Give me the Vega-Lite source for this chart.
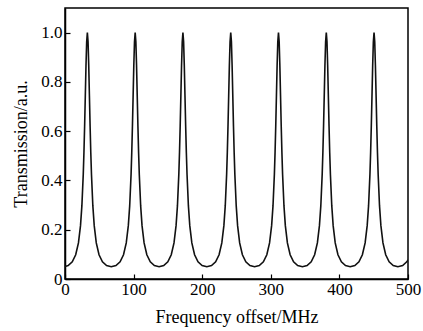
{
  "$schema": "https://vega.github.io/schema/vega-lite/v6.json",
  "width": 343,
  "height": 271,
  "autosize": "none",
  "padding": {"left": 65, "top": 8, "right": 15, "bottom": 52},
  "background": "white",
  "config": {
    "view": {"stroke": "#000", "strokeWidth": 1.5},
    "axis": {"labelFont": "Liberation Serif", "titleFont": "Liberation Serif", "labelColor": "#000", "titleColor": "#000", "domainColor": "#000", "tickColor": "#000", "grid": false, "labelFontSize": 17, "titleFontSize": 18, "titleFontWeight": "normal", "domainWidth": 1.5, "tickWidth": 1.2}
  },
  "data": {"values": [
    {"f": 0, "t": 0.0505}, {"f": 4.6, "t": 0.0548}, {"f": 10.6, "t": 0.0698}, {"f": 15.6, "t": 0.0985}, {"f": 19.6, "t": 0.1465}, {"f": 22.6, "t": 0.2166}, {"f": 24.6, "t": 0.2966}, {"f": 26.6, "t": 0.4238}, {"f": 27.6, "t": 0.5124}, {"f": 28.6, "t": 0.6202}, {"f": 29.6, "t": 0.7428}, {"f": 30.6, "t": 0.8662}, {"f": 31.6, "t": 0.9628}, {"f": 32.6, "t": 1.0}, {"f": 33.6, "t": 0.9628}, {"f": 34.6, "t": 0.8662}, {"f": 35.6, "t": 0.7428}, {"f": 36.6, "t": 0.6202}, {"f": 37.6, "t": 0.5124}, {"f": 38.6, "t": 0.4238}, {"f": 40.6, "t": 0.2966}, {"f": 42.6, "t": 0.2166}, {"f": 45.6, "t": 0.1465}, {"f": 49.6, "t": 0.0985}, {"f": 54.6, "t": 0.0698}, {"f": 60.6, "t": 0.0548}, {"f": 67.4, "t": 0.05},
    {"f": 74.3, "t": 0.0548}, {"f": 80.3, "t": 0.0698}, {"f": 85.3, "t": 0.0985}, {"f": 89.3, "t": 0.1465}, {"f": 92.3, "t": 0.2166}, {"f": 94.3, "t": 0.2966}, {"f": 96.3, "t": 0.4238}, {"f": 97.3, "t": 0.5124}, {"f": 98.3, "t": 0.6202}, {"f": 99.3, "t": 0.7428}, {"f": 100.3, "t": 0.8662}, {"f": 101.3, "t": 0.9628}, {"f": 102.3, "t": 1.0}, {"f": 103.3, "t": 0.9628}, {"f": 104.3, "t": 0.8662}, {"f": 105.3, "t": 0.7428}, {"f": 106.3, "t": 0.6202}, {"f": 107.3, "t": 0.5124}, {"f": 108.3, "t": 0.4238}, {"f": 110.3, "t": 0.2966}, {"f": 112.3, "t": 0.2166}, {"f": 115.3, "t": 0.1465}, {"f": 119.3, "t": 0.0985}, {"f": 124.3, "t": 0.0698}, {"f": 130.3, "t": 0.0548}, {"f": 137.1, "t": 0.05},
    {"f": 143.9, "t": 0.0548}, {"f": 149.9, "t": 0.0698}, {"f": 154.9, "t": 0.0985}, {"f": 158.9, "t": 0.1465}, {"f": 161.9, "t": 0.2166}, {"f": 163.9, "t": 0.2966}, {"f": 165.9, "t": 0.4238}, {"f": 166.9, "t": 0.5124}, {"f": 167.9, "t": 0.6202}, {"f": 168.9, "t": 0.7428}, {"f": 169.9, "t": 0.8662}, {"f": 170.9, "t": 0.9628}, {"f": 171.9, "t": 1.0}, {"f": 172.9, "t": 0.9628}, {"f": 173.9, "t": 0.8662}, {"f": 174.9, "t": 0.7428}, {"f": 175.9, "t": 0.6202}, {"f": 176.9, "t": 0.5124}, {"f": 177.9, "t": 0.4238}, {"f": 179.9, "t": 0.2966}, {"f": 181.9, "t": 0.2166}, {"f": 184.9, "t": 0.1465}, {"f": 188.9, "t": 0.0985}, {"f": 193.9, "t": 0.0698}, {"f": 199.9, "t": 0.0548}, {"f": 206.8, "t": 0.05},
    {"f": 213.6, "t": 0.0548}, {"f": 219.6, "t": 0.0698}, {"f": 224.6, "t": 0.0985}, {"f": 228.6, "t": 0.1465}, {"f": 231.6, "t": 0.2166}, {"f": 233.6, "t": 0.2966}, {"f": 235.6, "t": 0.4238}, {"f": 236.6, "t": 0.5124}, {"f": 237.6, "t": 0.6202}, {"f": 238.6, "t": 0.7428}, {"f": 239.6, "t": 0.8662}, {"f": 240.6, "t": 0.9628}, {"f": 241.6, "t": 1.0}, {"f": 242.6, "t": 0.9628}, {"f": 243.6, "t": 0.8662}, {"f": 244.6, "t": 0.7428}, {"f": 245.6, "t": 0.6202}, {"f": 246.6, "t": 0.5124}, {"f": 247.6, "t": 0.4238}, {"f": 249.6, "t": 0.2966}, {"f": 251.6, "t": 0.2166}, {"f": 254.6, "t": 0.1465}, {"f": 258.6, "t": 0.0985}, {"f": 263.6, "t": 0.0698}, {"f": 269.6, "t": 0.0548}, {"f": 276.4, "t": 0.05},
    {"f": 283.2, "t": 0.0548}, {"f": 289.2, "t": 0.0698}, {"f": 294.2, "t": 0.0985}, {"f": 298.2, "t": 0.1465}, {"f": 301.2, "t": 0.2166}, {"f": 303.2, "t": 0.2966}, {"f": 305.2, "t": 0.4238}, {"f": 306.2, "t": 0.5124}, {"f": 307.2, "t": 0.6202}, {"f": 308.2, "t": 0.7428}, {"f": 309.2, "t": 0.8662}, {"f": 310.2, "t": 0.9628}, {"f": 311.2, "t": 1.0}, {"f": 312.2, "t": 0.9628}, {"f": 313.2, "t": 0.8662}, {"f": 314.2, "t": 0.7428}, {"f": 315.2, "t": 0.6202}, {"f": 316.2, "t": 0.5124}, {"f": 317.2, "t": 0.4238}, {"f": 319.2, "t": 0.2966}, {"f": 321.2, "t": 0.2166}, {"f": 324.2, "t": 0.1465}, {"f": 328.2, "t": 0.0985}, {"f": 333.2, "t": 0.0698}, {"f": 339.2, "t": 0.0548}, {"f": 346.1, "t": 0.05},
    {"f": 352.9, "t": 0.0548}, {"f": 358.9, "t": 0.0698}, {"f": 363.9, "t": 0.0985}, {"f": 367.9, "t": 0.1465}, {"f": 370.9, "t": 0.2166}, {"f": 372.9, "t": 0.2966}, {"f": 374.9, "t": 0.4238}, {"f": 375.9, "t": 0.5124}, {"f": 376.9, "t": 0.6202}, {"f": 377.9, "t": 0.7428}, {"f": 378.9, "t": 0.8662}, {"f": 379.9, "t": 0.9628}, {"f": 380.9, "t": 1.0}, {"f": 381.9, "t": 0.9628}, {"f": 382.9, "t": 0.8662}, {"f": 383.9, "t": 0.7428}, {"f": 384.9, "t": 0.6202}, {"f": 385.9, "t": 0.5124}, {"f": 386.9, "t": 0.4238}, {"f": 388.9, "t": 0.2966}, {"f": 390.9, "t": 0.2166}, {"f": 393.9, "t": 0.1465}, {"f": 397.9, "t": 0.0985}, {"f": 402.9, "t": 0.0698}, {"f": 408.9, "t": 0.0548}, {"f": 415.7, "t": 0.05},
    {"f": 422.5, "t": 0.0548}, {"f": 428.5, "t": 0.0698}, {"f": 433.5, "t": 0.0985}, {"f": 437.5, "t": 0.1465}, {"f": 440.5, "t": 0.2166}, {"f": 442.5, "t": 0.2966}, {"f": 444.5, "t": 0.4238}, {"f": 445.5, "t": 0.5124}, {"f": 446.5, "t": 0.6202}, {"f": 447.5, "t": 0.7428}, {"f": 448.5, "t": 0.8662}, {"f": 449.5, "t": 0.9628}, {"f": 450.5, "t": 1.0}, {"f": 451.5, "t": 0.9628}, {"f": 452.5, "t": 0.8662}, {"f": 453.5, "t": 0.7428}, {"f": 454.5, "t": 0.6202}, {"f": 455.5, "t": 0.5124}, {"f": 456.5, "t": 0.4238}, {"f": 458.5, "t": 0.2966}, {"f": 460.5, "t": 0.2166}, {"f": 463.5, "t": 0.1465}, {"f": 467.5, "t": 0.0985}, {"f": 472.5, "t": 0.0698}, {"f": 478.5, "t": 0.0548}, {"f": 485.3, "t": 0.05},
    {"f": 492.2, "t": 0.0548}, {"f": 498.2, "t": 0.0698}, {"f": 500, "t": 0.0779}
  ]},
  "mark": {"type": "line", "color": "#111", "strokeWidth": 1.6, "clip": true},
  "encoding": {
    "x": {"field": "f", "type": "quantitative", "scale": {"domain": [0, 500], "nice": false}, "axis": {"title": "Frequency offset/MHz", "values": [0, 100, 200, 300, 400, 500], "tickSize": -5, "labelPadding": 7, "titlePadding": 11, "labelFlush": false, "labelOverlap": false}},
    "y": {"field": "t", "type": "quantitative", "scale": {"domain": [0, 1.1], "nice": false}, "axis": {"title": "Transmission/a.u.", "values": [0, 0.2, 0.4, 0.6, 0.8, 1.0], "labelExpr": "datum.value == 0 ? '0' : format(datum.value, '.1f')", "tickSize": -5, "labelPadding": 8, "titlePadding": 10, "labelFlush": false, "labelOverlap": false}}
  }
}
